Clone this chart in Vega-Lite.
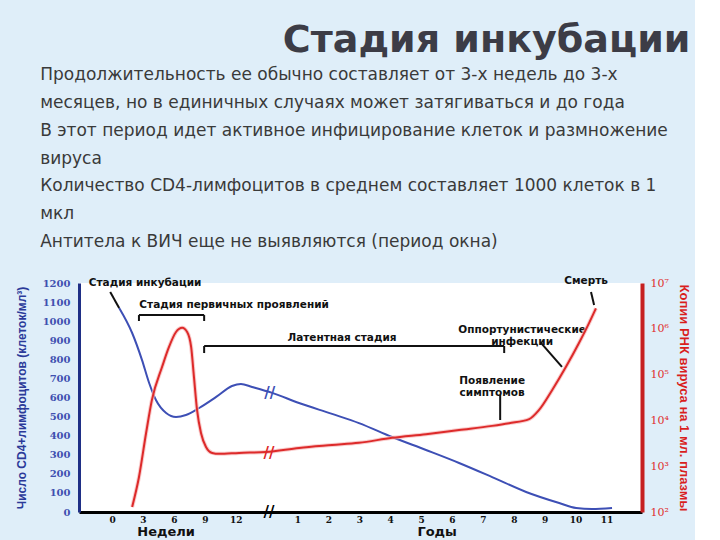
{
  "$schema": "https://vega.github.io/schema/vega-lite/v6.json",
  "background": "#dfeef9",
  "padding": {"left": 15, "top": 22, "right": 4, "bottom": 0},
  "config": {"axis": {"labelOverlap": false, "labelFlush": false, "ticks": false, "grid": false}},
  "title": {
    "text": "Стадия инкубации",
    "anchor": "end",
    "frame": "bounds",
    "font": "DejaVu Sans",
    "fontSize": 38,
    "fontWeight": "bold",
    "color": "#3c3c46",
    "dx": 1,
    "offset": 6
  },
  "datasets": {
    "cd4": [
      {"pos": 0.23, "cd4": 1069}, {"pos": 0.65, "cd4": 938}, {"pos": 0.97, "cd4": 796},
      {"pos": 1.2, "cd4": 676}, {"pos": 1.42, "cd4": 587}, {"pos": 1.75, "cd4": 519},
      {"pos": 2.07, "cd4": 498}, {"pos": 2.39, "cd4": 508}, {"pos": 2.82, "cd4": 545},
      {"pos": 3.37, "cd4": 603}, {"pos": 3.88, "cd4": 660}, {"pos": 4.17, "cd4": 671},
      {"pos": 4.53, "cd4": 655}, {"pos": 5.18, "cd4": 624}, {"pos": 6.05, "cd4": 571},
      {"pos": 7.12, "cd4": 514}, {"pos": 7.99, "cd4": 466}, {"pos": 9.06, "cd4": 393},
      {"pos": 10.16, "cd4": 325}, {"pos": 11.23, "cd4": 257}, {"pos": 12.3, "cd4": 183},
      {"pos": 13.4, "cd4": 105}, {"pos": 14.47, "cd4": 47}, {"pos": 15.02, "cd4": 21},
      {"pos": 15.53, "cd4": 16}, {"pos": 16.18, "cd4": 21}
    ],
    "rna": [
      {"pos": 0.65, "rna": 129}, {"pos": 0.87, "rna": 575}, {"pos": 1.1, "rna": 5250},
      {"pos": 1.29, "rna": 28000}, {"pos": 1.62, "rna": 148000}, {"pos": 1.84, "rna": 398000},
      {"pos": 2.07, "rna": 851000}, {"pos": 2.27, "rna": 1050000}, {"pos": 2.43, "rna": 851000},
      {"pos": 2.56, "rna": 398000}, {"pos": 2.65, "rna": 89000}, {"pos": 2.75, "rna": 17000},
      {"pos": 2.88, "rna": 5250}, {"pos": 3.04, "rna": 2630}, {"pos": 3.24, "rna": 1950},
      {"pos": 3.46, "rna": 1860}, {"pos": 4.11, "rna": 1950}, {"pos": 4.98, "rna": 2040},
      {"pos": 6.05, "rna": 2510}, {"pos": 7.12, "rna": 2900}, {"pos": 7.99, "rna": 3240},
      {"pos": 9.06, "rna": 4170}, {"pos": 10.16, "rna": 5010}, {"pos": 11.23, "rna": 6170},
      {"pos": 12.3, "rna": 7590}, {"pos": 12.85, "rna": 8710}, {"pos": 13.5, "rna": 10700},
      {"pos": 13.82, "rna": 17000}, {"pos": 14.24, "rna": 45700}, {"pos": 14.69, "rna": 148000},
      {"pos": 15.11, "rna": 490000}, {"pos": 15.44, "rna": 1350000}, {"pos": 15.66, "rna": 2800000}
    ],
    "notes": [
      {"pos": 1.07, "cd4": 1200, "label": "Стадия инкубации"},
      {"pos": 3.95, "cd4": 1085, "label": "Стадия первичных проявлений"},
      {"pos": 7.44, "cd4": 912, "label": "Латентная стадия"},
      {"pos": 15.34, "cd4": 1210, "label": "Смерть"},
      {"pos": 13.27, "cd4": 956, "label": "Оппортунистические\nинфекции"},
      {"pos": 12.3, "cd4": 684, "label": "Появление\nсимптомов"}
    ],
    "pointers": [
      {"pos": -0.06, "cd4": 1153, "pos2": 0.23, "cd42": 1069},
      {"pos": 0.87, "cd4": 1032, "pos2": 2.98, "cd42": 1032},
      {"pos": 0.87, "cd4": 1032, "pos2": 0.87, "cd42": 1001},
      {"pos": 2.98, "cd4": 1032, "pos2": 2.98, "cd42": 1001},
      {"pos": 2.98, "cd4": 870, "pos2": 12.69, "cd42": 870},
      {"pos": 2.98, "cd4": 870, "pos2": 2.98, "cd42": 833},
      {"pos": 12.69, "cd4": 870, "pos2": 12.69, "cd42": 833},
      {"pos": 15.5, "cd4": 1153, "pos2": 15.6, "cd42": 1085},
      {"pos": 13.88, "cd4": 886, "pos2": 14.56, "cd42": 760},
      {"pos": 12.56, "cd4": 613, "pos2": 12.56, "cd42": 482}
    ],
    "breaks": [
      {"pos": 5.1, "cd4": 624, "on": "CD4"},
      {"pos": 5.08, "cd4": 0, "on": "axis"}
    ],
    "rnaBreak": [
      {"pos": 5.08, "rna": 1950}
    ],
    "sections": [
      {"pos": 1.75, "cd4": -106, "label": "Недели"},
      {"pos": 10.52, "cd4": -106, "label": "Годы"}
    ]
  },
  "vconcat": [
    {
      "width": 563,
      "height": 229,
      "title": {
        "text": [
          "Продолжительность ее обычно составляет от 3-х недель до 3-х",
          "месяцев, но в единичных случаях может затягиваться и до года",
          "В этот период идет активное инфицирование клеток и размножение",
          "вируса",
          "Количество CD4-лимфоцитов в среднем составляет 1000 клеток в 1",
          "мкл",
          "Антитела к ВИЧ еще не выявляются (период окна)"
        ],
        "anchor": "start",
        "frame": "bounds",
        "font": "DejaVu Sans",
        "fontSize": 17,
        "fontWeight": "normal",
        "lineHeight": 27.8,
        "color": "#3a3a3a",
        "dx": 25,
        "offset": 25
      },
      "view": {"fill": "white", "stroke": null},
      "resolve": {"scale": {"y": "independent"}},
      "layer": [
        {
          "layer": [
            {
              "data": {"name": "cd4"},
              "mark": {"type": "line", "color": "#3d4fb5", "strokeWidth": 2, "interpolate": "monotone"},
              "encoding": {
                "x": {
                  "field": "pos", "type": "quantitative",
                  "scale": {"domain": [-1.07, 17.15], "nice": false, "zero": false},
                  "axis": {
                    "values": [0, 1, 2, 3, 4, 6, 7, 8, 9, 10, 11, 12, 13, 14, 15, 16],
                    "tickCount": 100,
                    "labelExpr": "datum.value <= 4 ? format(datum.value * 3, 'd') : format(datum.value - 5, 'd')",
                    "labelOverlap": false,
                    "title": null, "ticks": false, "grid": false,
                    "domainColor": "#000000", "domainWidth": 3,
                    "labelFont": "DejaVu Serif", "labelFontSize": 9, "labelFontWeight": "bold",
                    "labelColor": "#111111", "labelPadding": 3, "labelFlush": false, "zindex": 1
                  }
                },
                "y": {
                  "field": "cd4", "type": "quantitative",
                  "scale": {"domain": [0, 1200], "nice": false},
                  "axis": {
                    "values": [0, 100, 200, 300, 400, 500, 600, 700, 800, 900, 1000, 1100, 1200],
                    "tickCount": 100,
                    "format": "d",
                    "labelOverlap": false,
                    "title": "Число CD4+лимфоцитов (клеток/мл³)",
                    "titleFont": "Liberation Sans", "titleFontSize": 12, "titleFontWeight": "bold",
                    "titleColor": "#2b3a99", "titlePadding": 14,
                    "ticks": false, "grid": false,
                    "domainColor": "#1f2f86", "domainWidth": 3,
                    "labelFont": "DejaVu Serif", "labelFontSize": 10, "labelFontWeight": "bold",
                    "labelColor": "#4050b0", "labelPadding": 9, "labelFlush": false, "zindex": 1
                  }
                }
              }
            },
            {
              "data": {"name": "pointers"},
              "mark": {"type": "rule", "color": "#111111", "strokeWidth": 2},
              "encoding": {
                "x": {"field": "pos", "type": "quantitative"},
                "x2": {"field": "pos2"},
                "y": {"field": "cd4", "type": "quantitative"},
                "y2": {"field": "cd42"}
              }
            },
            {
              "data": {"name": "notes"},
              "mark": {"type": "text", "font": "DejaVu Sans", "fontSize": 10.5, "fontWeight": "bold", "color": "#111111", "align": "center", "baseline": "middle", "lineBreak": "\n", "lineHeight": 12},
              "encoding": {
                "x": {"field": "pos", "type": "quantitative"},
                "y": {"field": "cd4", "type": "quantitative"},
                "text": {"field": "label"}
              }
            },
            {
              "data": {"name": "breaks"},
              "transform": [{"filter": "datum.on === 'CD4'"}],
              "mark": {"type": "text", "font": "DejaVu Sans", "fontSize": 15, "fontWeight": "bold", "color": "#3d4fb5", "align": "center", "baseline": "middle"},
              "encoding": {
                "x": {"field": "pos", "type": "quantitative"},
                "y": {"field": "cd4", "type": "quantitative"},
                "text": {"value": "//"}
              }
            },
            {
              "data": {"name": "breaks"},
              "transform": [{"filter": "datum.on === 'axis'"}],
              "mark": {"type": "text", "font": "DejaVu Sans", "fontSize": 15, "fontWeight": "bold", "color": "#000000", "align": "center", "baseline": "middle"},
              "encoding": {
                "x": {"field": "pos", "type": "quantitative"},
                "y": {"field": "cd4", "type": "quantitative"},
                "text": {"value": "//"}
              }
            },
            {
              "data": {"name": "sections"},
              "mark": {"type": "text", "font": "DejaVu Sans", "fontSize": 13, "fontWeight": "bold", "color": "#111111", "align": "center", "baseline": "middle"},
              "encoding": {
                "x": {"field": "pos", "type": "quantitative"},
                "y": {"field": "cd4", "type": "quantitative"},
                "text": {"field": "label"}
              }
            }
          ]
        },
        {
          "layer": [
            {
              "data": {"name": "rna"},
              "encoding": {
                "x": {"field": "pos", "type": "quantitative"},
                "y": {
                  "field": "rna", "type": "quantitative",
                  "scale": {"type": "log", "domain": [100, 10000000], "nice": false},
                  "axis": {
                    "orient": "right",
                    "values": [100, 1000, 10000, 100000, 1000000, 10000000],
                    "tickCount": 100,
                    "labelExpr": "'10' + ['⁰','¹','²','³','⁴','⁵','⁶','⁷'][round(log(datum.value) / LN10)]",
                    "labelOverlap": false,
                    "title": "Копии РНК вируса на 1 мл. плазмы",
                    "titleFont": "Liberation Sans", "titleFontSize": 13, "titleFontWeight": "bold",
                    "titleColor": "#d91e1e", "titleAngle": 90, "titlePadding": 8,
                    "ticks": false, "grid": false,
                    "domainColor": "#c62020", "domainWidth": 4,
                    "labelFont": "DejaVu Serif", "labelFontSize": 11,
                    "labelColor": "#e03030", "labelPadding": 8, "labelFlush": false, "zindex": 1
                  }
                }
              },
              "layer": [
                {"mark": {"type": "line", "color": "#f7b8b8", "strokeWidth": 4, "opacity": 0.7, "interpolate": "monotone"}},
                {"mark": {"type": "line", "color": "#dd2a2a", "strokeWidth": 2, "interpolate": "monotone"}}
              ]
            },
            {
              "data": {"name": "rnaBreak"},
              "mark": {"type": "text", "font": "DejaVu Sans", "fontSize": 15, "fontWeight": "bold", "color": "#dd2a2a", "align": "center", "baseline": "middle"},
              "encoding": {
                "x": {"field": "pos", "type": "quantitative"},
                "y": {"field": "rna", "type": "quantitative"},
                "text": {"value": "//"}
              }
            }
          ]
        }
      ]
    }
  ]
}
